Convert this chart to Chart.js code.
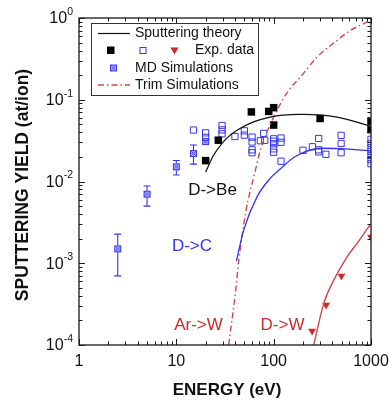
<!DOCTYPE html>
<html><head><meta charset="utf-8">
<script src="https://cdn.jsdelivr.net/npm/chart.js@4.4.1/dist/chart.umd.min.js"></script>
<style>html,body{margin:0;padding:0;background:#fff}canvas{display:block}</style>
</head><body>
<canvas id="c" width="389" height="403"></canvas>
<script>
// ---- tick labels ----
const xTickValues = [1, 10, 100, 1000];
const xTickLabels = ['1', '10', '100', '1000'];
const yTickValues = [1e-4, 1e-3, 1e-2, 1e-1, 1];
const yTickExponents = ['-4', '-3', '-2', '-1', '0'];

// ---- theory curves (energy eV, yield at/ion) ----
const beTheoryE = [20, 26, 42, 92, 203, 448, 1000];
const beTheoryY = [0.0131, 0.0241, 0.0423, 0.0614, 0.0663, 0.0614, 0.0473];
const cTheoryE = [41.4, 49.2, 67.4, 92.5, 112.6, 167, 314, 545, 1000];
const cTheoryY = [0.00106, 0.00254, 0.00648, 0.0110, 0.0137, 0.0202, 0.0255, 0.0251, 0.0236];
const wTheoryE = [258, 327, 414, 568, 720, 1000];
const wTheoryY = [0.0001, 0.000323, 0.000622, 0.0012, 0.00175, 0.00306];
const trimE = [34.5, 40.4, 43.7, 51.2, 64.9, 73, 100, 142.6, 188, 279, 448, 614, 947, 1000];
const trimY = [0.0001, 0.00043, 0.00105, 0.0040, 0.0137, 0.0241, 0.0614, 0.130, 0.189, 0.332, 0.531, 0.704, 0.914, 0.95];

// ---- experimental data ----
const beExpE = [20, 27, 59, 89, 100, 100, 300, 1000, 1000];
const beExpY = [0.018, 0.032, 0.071, 0.072, 0.080, 0.049, 0.059, 0.055, 0.043];
const cExpE = [15, 20, 20, 29.5, 29.5, 29.5, 40, 50, 50, 60, 60, 60, 60, 79, 73, 81,
  100, 100, 100, 100, 100, 119, 119, 119, 200, 250, 290, 290, 290, 344, 493, 493, 493,
  1000, 1000, 1000, 1000, 1000, 1000, 1000];
const cExpY = [0.0426, 0.0394, 0.0347, 0.0484, 0.0428, 0.0383, 0.0355, 0.0417, 0.0369,
  0.0349, 0.0304, 0.0244, 0.0225, 0.0388, 0.0315, 0.0319,
  0.0333, 0.0311, 0.0289, 0.0251, 0.0228, 0.0340, 0.0302, 0.0177, 0.0241, 0.0266,
  0.0336, 0.0244, 0.0230, 0.0215, 0.0367, 0.0292, 0.0225,
  0.0328, 0.0292, 0.0260, 0.0233, 0.0208, 0.0185, 0.0165];
const wExpE = [248, 346, 497, 1000];
const wExpY = [0.000148, 0.000308, 0.000696, 0.0021];

// ---- MD simulations ----
const mdE = [2.5, 5, 10, 15, 20];
const mdY = [0.0015, 0.0070, 0.0151, 0.0220, 0.0308];
const mdLow = [0.00070, 0.0050, 0.0120, 0.0163, null];
const mdHigh = [0.00227, 0.0088, 0.0181, 0.0279, null];

const BLUE = '#3535f0';
const RED = '#cc2b2b';
const RED_LINE = '#d24848';

function pts(xs, ys) { return xs.map((x, i) => ({ x: x, y: ys[i] })); }

// MD marker
const md = document.createElement('canvas');
md.width = 9; md.height = 9;
(function () {
  const g = md.getContext('2d');
  g.fillStyle = 'rgba(110,110,255,0.25)';
  g.fillRect(1, 1, 7, 7);
  g.strokeStyle = BLUE; g.lineWidth = 1;
  g.strokeRect(1.5, 1.5, 6, 6);
  g.lineWidth = 0.6;
  g.beginPath(); g.moveTo(2, 2); g.lineTo(7, 7); g.moveTo(7, 2); g.lineTo(2, 7); g.stroke();
  g.lineWidth = 0.9;
  g.beginPath(); g.arc(4.5, 4.5, 1.6, 0, Math.PI * 2); g.stroke();
})();

const FONT = 'Arial, "Liberation Sans", sans-serif';

const decor = {
  id: 'decor',
  afterDatasetsDraw(chart) {
    const ctx = chart.ctx, xs = chart.scales.x, ys = chart.scales.y;
    ctx.save();
    ctx.strokeStyle = BLUE; ctx.lineWidth = 1.1;
    mdE.forEach((e, i) => {
      if (mdLow[i] == null) return;
      const px = xs.getPixelForValue(e);
      const p1 = ys.getPixelForValue(mdLow[i]), p2 = ys.getPixelForValue(mdHigh[i]);
      const py = ys.getPixelForValue(mdY[i]);
      ctx.beginPath();
      ctx.moveTo(px, p2); ctx.lineTo(px, py - 3.5);
      ctx.moveTo(px, py + 3.5); ctx.lineTo(px, p1);
      ctx.moveTo(px - 3.5, p1); ctx.lineTo(px + 3.5, p1);
      ctx.moveTo(px - 3.5, p2); ctx.lineTo(px + 3.5, p2);
      ctx.stroke();
    });
    ctx.restore();
  },
  afterDraw(chart) {
    const ctx = chart.ctx, a = chart.chartArea, xs = chart.scales.x, ys = chart.scales.y;
    ctx.save();
    ctx.strokeStyle = '#1a1a1a'; ctx.lineWidth = 1.3;
    ctx.strokeRect(a.left, a.top, a.right - a.left, a.bottom - a.top);
    ctx.lineWidth = 1;
    ctx.beginPath();
    for (let d = 1; d <= 1000; d *= 10) {
      for (let m = 1; m <= 9; m++) {
        const v = d * m; if (v > 1000) break;
        const px = Math.round(xs.getPixelForValue(v)) + 0.5;
        const L = m === 1 ? 6 : 3.5;
        ctx.moveTo(px, a.bottom); ctx.lineTo(px, a.bottom - L);
        ctx.moveTo(px, a.top); ctx.lineTo(px, a.top + L);
      }
    }
    for (let k = -4; k <= 0; k++) {
      const d = Math.pow(10, k);
      for (let m = 1; m <= 9; m++) {
        const v = d * m; if (v > 1.0001) break;
        const py = Math.round(ys.getPixelForValue(v)) + 0.5;
        const L = m === 1 ? 6 : 3.5;
        ctx.moveTo(a.left, py); ctx.lineTo(a.left + L, py);
        ctx.moveTo(a.right, py); ctx.lineTo(a.right - L, py);
      }
    }
    ctx.stroke();
    ctx.fillStyle = '#111';
    ctx.font = '16px ' + FONT;
    ctx.textAlign = 'center'; ctx.textBaseline = 'middle';
    xTickValues.forEach((v, i) => ctx.fillText(xTickLabels[i], xs.getPixelForValue(v), a.bottom + 17));
    yTickValues.forEach((v, i) => {
      const py = ys.getPixelForValue(v);
      ctx.font = '10.5px ' + FONT;
      ctx.textAlign = 'left'; ctx.textBaseline = 'middle';
      const ew = ctx.measureText(yTickExponents[i]).width;
      const ex = a.left - 6 - ew;
      ctx.fillText(yTickExponents[i], ex, py - 6);
      ctx.font = '16px ' + FONT;
      ctx.textAlign = 'right';
      ctx.fillText('10', ex, py + 1);
    });
    ctx.font = 'bold 17px ' + FONT;
    ctx.textAlign = 'center'; ctx.textBaseline = 'middle';
    ctx.fillText('ENERGY (eV)', 227, 390);
    ctx.save();
    ctx.translate(23, 185); ctx.rotate(-Math.PI / 2);
    ctx.font = 'bold 17.5px ' + FONT;
    ctx.fillText('SPUTTERING YIELD (at/ion)', 0, 0);
    ctx.restore();
    ctx.font = '17px ' + FONT;
    ctx.fillStyle = '#111'; ctx.fillText('D->Be', 212.5, 190);
    ctx.fillStyle = BLUE; ctx.fillText('D->C', 192, 246);
    ctx.fillStyle = RED; ctx.fillText('Ar->W', 198.5, 325); ctx.fillText('D->W', 282.5, 325);
    ctx.fillStyle = '#fff';
    ctx.fillRect(91, 23, 168, 73);
    ctx.strokeStyle = '#333'; ctx.lineWidth = 1;
    ctx.strokeRect(91.5, 23.5, 167, 72);
    ctx.font = '14px ' + FONT; ctx.textAlign = 'left'; ctx.fillStyle = '#111';
    ctx.fillText('Sputtering theory', 135, 33.5);
    ctx.fillText('Exp. data', 195, 50.5);
    ctx.fillText('MD Simulations', 135, 68);
    ctx.fillText('Trim Simulations', 135, 85);
    ctx.strokeStyle = '#111'; ctx.lineWidth = 1.2;
    ctx.beginPath(); ctx.moveTo(98, 33.5); ctx.lineTo(130, 33.5); ctx.stroke();
    ctx.strokeStyle = RED_LINE; ctx.lineWidth = 1.3; ctx.setLineDash([6, 3, 1.5, 3]);
    ctx.beginPath(); ctx.moveTo(98, 85); ctx.lineTo(130, 85); ctx.stroke();
    ctx.setLineDash([]);
    ctx.fillStyle = '#000'; ctx.fillRect(107, 46.5, 7.5, 7.5);
    ctx.strokeStyle = BLUE; ctx.lineWidth = 1; ctx.strokeRect(140, 47.5, 6, 6);
    ctx.fillStyle = RED;
    ctx.beginPath(); ctx.moveTo(170.5, 47.5); ctx.lineTo(178.5, 47.5); ctx.lineTo(174.5, 54.5); ctx.closePath(); ctx.fill();
    ctx.drawImage(md, 109, 63.5);
    ctx.restore();
  }
};

new Chart(document.getElementById('c'), {
  type: 'scatter',
  data: {
    datasets: [
      { label: 'Sputtering theory D->Be', data: pts(beTheoryE, beTheoryY), showLine: true, borderColor: '#111', borderWidth: 1.2, pointRadius: 0, tension: 0.4, fill: false },
      { label: 'Sputtering theory D->C', data: pts(cTheoryE, cTheoryY), showLine: true, borderColor: BLUE, borderWidth: 1.3, pointRadius: 0, cubicInterpolationMode: 'monotone', fill: false },
      { label: 'Sputtering theory D->W', data: pts(wTheoryE, wTheoryY), showLine: true, borderColor: RED_LINE, borderWidth: 1.4, pointRadius: 0, cubicInterpolationMode: 'monotone', fill: false },
      { label: 'Trim Simulations', data: pts(trimE, trimY), showLine: true, borderColor: RED_LINE, borderWidth: 1.4, borderDash: [6, 3, 1.5, 3], pointRadius: 0, cubicInterpolationMode: 'monotone', fill: false },
      { label: 'Exp. data Be', data: pts(beExpE, beExpY), pointStyle: 'rect', pointRadius: 5.3, backgroundColor: '#000', borderColor: '#000', borderWidth: 0 },
      { label: 'Exp. data C', data: pts(cExpE, cExpY), pointStyle: 'rect', pointRadius: 4.4, backgroundColor: 'rgba(255,255,255,0)', borderColor: BLUE, borderWidth: 1 },
      { label: 'Exp. data W', data: pts(wExpE, wExpY), pointStyle: 'triangle', rotation: 180, pointRadius: 4.5, backgroundColor: RED, borderColor: RED, borderWidth: 0 },
      { label: 'MD Simulations', data: pts(mdE, mdY), pointStyle: md, backgroundColor: BLUE, borderColor: BLUE }
    ]
  },
  options: {
    responsive: false,
    animation: false,
    devicePixelRatio: 1,
    layout: { padding: { left: 79, right: 18, top: 18, bottom: 58 } },
    plugins: { legend: { display: false }, tooltip: { enabled: false } },
    scales: {
      x: { type: 'logarithmic', min: 1, max: 1000, display: false },
      y: { type: 'logarithmic', min: 1e-4, max: 1, display: false }
    }
  },
  plugins: [decor]
});
</script>
</body></html>
